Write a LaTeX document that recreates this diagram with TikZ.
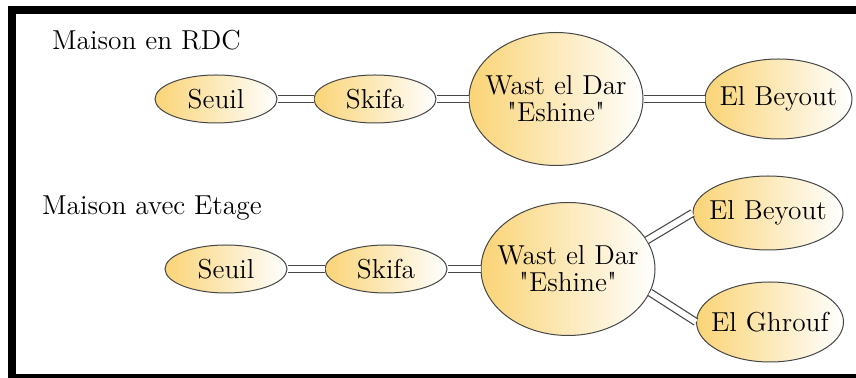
\documentclass[tikz,border=0pt]{standalone}
\usepackage{tikz}
\usetikzlibrary{shapes.geometric, positioning}

\definecolor{roomgold}{RGB}{250,212,118}
\definecolor{roomline}{RGB}{70,70,70}

\begin{document}
\begin{tikzpicture}[x=0.5pt, y=-0.5pt,
    room/.style={draw=roomline, line width=0.5pt, ellipse, left color=roomgold, right color=white,
        inner xsep=-8pt, inner ysep=0pt, minimum width=61pt, minimum height=24pt,
        font=\fontsize{13.7}{13.5}\selectfont, align=center},
    hall/.style={room, minimum width=87pt, minimum height=66.5pt},
    bedroom/.style={room, minimum width=73.5pt, minimum height=40pt},
    passage/.style={draw=roomline, line width=0.6pt, double=white, double distance=2.9pt},
    caption/.style={anchor=base west, font=\fontsize{13.7}{13.5}\selectfont}]

    \useasboundingbox (0,0) rectangle (856,378);
    \draw [line width=4pt] (12,10) rectangle (870,378);

    % ground floor
    \node [caption] (titleA) at (45,50) {Maison en RDC};
    \node [room] (seuilA) at (216,99) {Seuil};
    \node [room, right=18pt of seuilA] (skifaA) {Skifa};
    \node [hall, right=16pt of skifaA] (wastA) {Wast el Dar\\\textquotedbl Eshine\textquotedbl};
    \node [bedroom, right=30.5pt of wastA] (beyoutA) {El Beyout};

    \draw [passage] (seuilA) -- (skifaA);
    \draw [passage] (skifaA) -- (wastA);
    \draw [passage] (wastA) -- (beyoutA);

    % upper floor
    \node [caption] (titleB) at (35,215) {Maison avec Etage};
    \node [room] (seuilB) at (226,269) {Seuil};
    \node [room, right=18.5pt of seuilB] (skifaB) {Skifa};
    \node [hall, right=16.5pt of skifaB] (wastB) {Wast el Dar\\\textquotedbl Eshine\textquotedbl};
    \node [bedroom, minimum width=75pt, minimum height=37pt] (beyoutB) at (768,213) {El Beyout};
    \node [bedroom] (ghroufB) at (770,322) {El Ghrouf};

    \draw [passage] (seuilB) -- (skifaB);
    \draw [passage] (skifaB) -- (wastB);
    \draw [passage] (wastB.20) -- (beyoutB.west);
    \draw [passage] (wastB.-16) -- (ghroufB.west);
\end{tikzpicture}
\end{document}
